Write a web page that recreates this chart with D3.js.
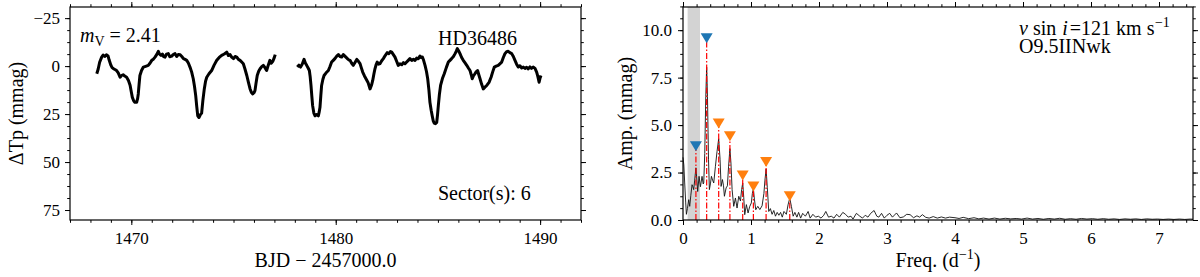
<!DOCTYPE html>
<html>
<head>
<meta charset="utf-8">
<script src="https://cdn.jsdelivr.net/npm/d3@7"></script>
<style>
  body { margin: 0; background: #fff; }
  text { font-family: "Liberation Serif", "DejaVu Serif", serif; fill: #000; }
  .axis line { stroke: #000; stroke-width: 1; }
  .axis path { display: none; }
</style>
</head>
<body>
<svg id="chart"></svg>
<script>
// Light curve, two TESS segments (BJD - 2457000, dTp in mmag)
const lcSegment1 = [[1468.31,4.0],[1468.38,1.5],[1468.45,-2.0],[1468.55,-4.7],[1468.62,-5.8],[1468.7,-5.0],[1468.78,-5.9],[1468.86,-5.3],[1468.92,-3.0],[1469.0,-0.5],[1469.06,0.8],[1469.15,1.5],[1469.22,1.9],[1469.28,2.3],[1469.36,3.5],[1469.45,5.8],[1469.52,4.9],[1469.6,4.5],[1469.68,5.2],[1469.77,5.8],[1469.86,7.5],[1469.94,10],[1470.0,13.5],[1470.05,16.3],[1470.12,18.2],[1470.18,18.9],[1470.26,18.9],[1470.31,16.8],[1470.34,14.5],[1470.38,9.5],[1470.42,4.9],[1470.5,2.3],[1470.59,0.5],[1470.7,0.1],[1470.83,-0.4],[1470.92,-1.6],[1471.0,-3],[1471.08,-3.6],[1471.16,-4.7],[1471.24,-6.0],[1471.32,-7.7],[1471.38,-6.2],[1471.45,-5.6],[1471.52,-6.3],[1471.58,-5.0],[1471.65,-4.7],[1471.72,-6.2],[1471.81,-6.5],[1471.88,-4.9],[1471.98,-5.2],[1472.05,-6.0],[1472.14,-6.5],[1472.22,-5.0],[1472.3,-6.1],[1472.39,-5.9],[1472.47,-5.0],[1472.55,-3.9],[1472.63,-3.5],[1472.71,-3.0],[1472.79,-1.6],[1472.87,0.5],[1472.95,3.0],[1473.03,6.6],[1473.09,10.5],[1473.15,15.4],[1473.2,21],[1473.25,25.9],[1473.31,26.8],[1473.38,25.3],[1473.44,24.5],[1473.5,18],[1473.57,11.9],[1473.63,8.0],[1473.69,5.8],[1473.8,4.0],[1473.93,2.3],[1474.05,-0.5],[1474.18,-3],[1474.3,-4.5],[1474.42,-5.6],[1474.55,-6.3],[1474.67,-7.3],[1474.75,-5.5],[1474.83,-6.0],[1474.91,-4.7],[1475.0,-3.9],[1475.08,-5.0],[1475.16,-4.7],[1475.24,-3.5],[1475.32,-3],[1475.4,-2.1],[1475.48,-1.2],[1475.56,1.5],[1475.65,4.9],[1475.73,8.5],[1475.81,11.9],[1475.88,13.8],[1475.94,14.5],[1476.0,13.9],[1476.05,12.8],[1476.1,9.0],[1476.16,4.9],[1476.23,2.7],[1476.3,1.4],[1476.38,0.3],[1476.46,-0.4],[1476.54,0.8],[1476.62,2.3],[1476.7,-0.5],[1476.78,-3],[1476.85,-1.5],[1476.92,-2.5],[1476.98,-4.0],[1477.04,-6]];

const lcSegment2 = [[1478.12,0.5],[1478.2,-0.5],[1478.28,0.5],[1478.36,-1.0],[1478.45,-3.5],[1478.52,-1.5],[1478.58,-0.4],[1478.65,1.0],[1478.71,2.3],[1478.75,5.5],[1478.79,10.1],[1478.83,15.5],[1478.87,20.6],[1478.93,24.5],[1478.99,25.9],[1479.07,25.2],[1479.15,25.9],[1479.19,24.0],[1479.23,21.5],[1479.27,15.5],[1479.31,10.1],[1479.37,7.0],[1479.43,4.9],[1479.53,3.5],[1479.64,2.3],[1479.72,0.2],[1479.8,-2.1],[1479.88,-3.0],[1479.96,-3.9],[1480.05,-5.2],[1480.13,-6],[1480.21,-5.0],[1480.29,-4.7],[1480.37,-6.0],[1480.45,-5.2],[1480.51,-4.5],[1480.57,-3.9],[1480.63,-3.3],[1480.7,-3],[1480.78,-1.5],[1480.86,-0.4],[1480.95,-2.0],[1481.03,-3.5],[1481.11,-2.5],[1481.19,-1.3],[1481.25,0.8],[1481.32,3.1],[1481.4,5.0],[1481.48,6.6],[1481.58,8.5],[1481.68,11.9],[1481.75,10.0],[1481.81,7.5],[1481.87,4.0],[1481.92,1.4],[1481.97,-0.5],[1482.03,-2.1],[1482.1,-1.0],[1482.17,-1.3],[1482.25,-2.8],[1482.33,-3.9],[1482.42,-5.5],[1482.52,-7.0],[1482.6,-6.5],[1482.68,-7.6],[1482.74,-7.3],[1482.82,-6.0],[1482.9,-4.7],[1482.98,-2.5],[1483.06,-0.4],[1483.14,-1.2],[1483.23,-0.7],[1483.31,-1.8],[1483.39,-1.2],[1483.47,-2.1],[1483.55,-3.0],[1483.63,-3.9],[1483.72,-3.0],[1483.8,-3.5],[1483.88,-3.0],[1483.96,-4.2],[1484.04,-3.8],[1484.12,-5.2],[1484.18,-4.5],[1484.24,-4.7],[1484.3,-3.0],[1484.37,-0.4],[1484.44,2.8],[1484.5,6.6],[1484.56,12.5],[1484.61,18.9],[1484.67,23],[1484.72,25.9],[1484.77,28.5],[1484.82,29.7],[1484.88,30.0],[1484.94,29.4],[1484.98,25.5],[1485.02,20.6],[1485.07,15.0],[1485.13,10.1],[1485.22,6.5],[1485.31,4.0],[1485.41,0.8],[1485.51,-2.1],[1485.59,-3.0],[1485.67,-3.9],[1485.76,-5.0],[1485.84,-6.5],[1485.9,-7.8],[1485.95,-9.1],[1486.01,-8.0],[1486.08,-6.5],[1486.16,-4.5],[1486.24,-3],[1486.32,-1.8],[1486.41,-0.4],[1486.49,1.0],[1486.57,2.3],[1486.63,4.5],[1486.68,6.6],[1486.74,5.0],[1486.81,4.0],[1486.87,3.0],[1486.94,2.3],[1487.0,4.5],[1487.06,6.6],[1487.14,9.5],[1487.22,11.9],[1487.3,11.0],[1487.39,10.1],[1487.5,8.5],[1487.6,5.8],[1487.68,3.0],[1487.76,0.5],[1487.85,0.0],[1487.95,-0.4],[1488.03,-1.2],[1488.12,-2.1],[1488.2,-4.5],[1488.28,-6.5],[1488.36,-7.5],[1488.44,-7.7],[1488.52,-7.0],[1488.61,-6.5],[1488.69,-5.0],[1488.77,-3],[1488.85,-1.0],[1488.93,0.5],[1489.01,-0.2],[1489.1,1.0],[1489.18,0.5],[1489.26,1.2],[1489.34,0.6],[1489.42,1.4],[1489.5,0.4],[1489.58,1.2],[1489.67,0.5],[1489.75,1.2],[1489.83,3.1],[1489.89,5.5],[1489.95,8.4],[1489.99,6.5],[1490.04,4.9]];

// Amplitude spectrum (freq in d^-1, amp in mmag)
const periodogram = [[0.00,3.3],[0.012,2.9],[0.025,1.95],[0.04,0.9],[0.05,0.3],[0.065,0.6],[0.084,1.07],[0.099,0.72],[0.115,1.3],[0.133,1.86],[0.145,1.75],[0.157,1.6],[0.172,2.1],[0.19,2.75],[0.204,2.1],[0.216,1.5],[0.236,2.3],[0.256,1.75],[0.28,2.3],[0.297,1.9],[0.305,1.95],[0.32,3.5],[0.335,6.5],[0.348,8.05],[0.36,6.5],[0.375,3.2],[0.388,1.6],[0.403,1.9],[0.418,2.3],[0.435,2.1],[0.452,1.95],[0.477,2.83],[0.5,3.6],[0.525,4.28],[0.545,3.2],[0.56,1.77],[0.58,2.13],[0.596,1.8],[0.609,1.25],[0.634,1.69],[0.653,1.8],[0.67,2.8],[0.69,3.76],[0.705,3.0],[0.722,1.6],[0.746,0.72],[0.771,1.16],[0.795,0.63],[0.82,1.25],[0.845,1.0],[0.862,1.6],[0.878,1.95],[0.893,1.2],[0.908,0.28],[0.932,0.81],[0.957,0.37],[0.98,0.7],[1.005,0.9],[1.02,1.4],[1.035,1.65],[1.05,1.1],[1.07,0.54],[1.1,0.72],[1.13,0.55],[1.163,0.75],[1.19,1.4],[1.205,2.1],[1.222,2.68],[1.24,1.7],[1.261,0.45],[1.285,0.6],[1.31,0.3],[1.335,0.5],[1.36,0.2],[1.385,0.4],[1.41,0.25],[1.435,0.4],[1.46,0.15],[1.485,0.45],[1.52,0.3],[1.545,0.8],[1.57,1.15],[1.595,0.7],[1.62,0.2],[1.645,0.4],[1.675,0.15],[1.7,0.4],[1.73,0.1],[1.76,0.35],[1.8,0.2],[1.84,0.45],[1.87,0.1],[1.91,0.3],[1.95,0.15],[1.99,0.2],[2.03,0.1],[2.07,0.25],[2.1,0.45],[2.14,0.15],[2.18,0.2],[2.22,0.1],[2.26,0.3],[2.3,0.15],[2.35,0.4],[2.39,0.3],[2.43,0.15],[2.47,0.2],[2.5,0.05],[2.55,0.35],[2.6,0.2],[2.64,0.1],[2.68,0.25],[2.72,0.15],[2.76,0.35],[2.81,0.5],[2.85,0.2],[2.88,0.15],[2.92,0.35],[2.96,0.1],[3.0,0.25],[3.04,0.35],[3.08,0.15],[3.14,0.37],[3.19,0.12],[3.24,0.16],[3.29,0.3],[3.34,0.28],[3.39,0.12],[3.44,0.22],[3.48,0.15],[3.52,0.28],[3.57,0.14],[3.62,0.1],[3.68,0.18],[3.74,0.1],[3.8,0.16],[3.86,0.1],[3.92,0.15],[4.0,0.12],[4.06,0.08],[4.12,0.14],[4.2,0.07],[4.28,0.12],[4.35,0.06],[4.42,0.1],[4.5,0.05],[4.58,0.1],[4.66,0.05],[4.74,0.09],[4.82,0.06],[4.9,0.08],[4.98,0.05],[5.06,0.1],[5.14,0.05],[5.22,0.08],[5.3,0.04],[5.38,0.08],[5.46,0.05],[5.54,0.09],[5.62,0.04],[5.7,0.07],[5.78,0.04],[5.86,0.08],[5.94,0.05],[6.02,0.07],[6.1,0.04],[6.18,0.07],[6.26,0.04],[6.34,0.06],[6.42,0.03],[6.5,0.06],[6.58,0.04],[6.66,0.06],[6.74,0.03],[6.82,0.06],[6.9,0.04],[6.98,0.05],[7.06,0.03],[7.14,0.05],[7.22,0.03],[7.3,0.05],[7.38,0.03],[7.46,0.05],[7.5,0.04]];

// Extracted frequencies (marker position = amplitude of the triangle)
const blueFreqs = [0.348, 0.19];
const blueAmps = [9.58, 3.88];
const orangeFreqs = [0.525, 0.69, 0.878, 1.035, 1.222, 1.57];
const orangeAmps = [5.08, 4.41, 2.34, 1.77, 3.06, 1.25];
const shadedBand = [0.068, 0.25];

const lcXTicks = [1470, 1480, 1490];
const lcYTicks = [-25, 0, 25, 50, 75];
const pgXTicks = [0, 1, 2, 3, 4, 5, 6, 7];
const pgYTicks = [0, 2.5, 5, 7.5, 10];

const serif = '"Liberation Serif", "DejaVu Serif", serif';
const W = 1200, H = 277;
const svg = d3.select('#chart').attr('width', W).attr('height', H);

const plotTop = 7, plotBottom = 220;

// ---- left panel: light curve ----
const x1 = d3.scaleLinear().domain([1467, 1492]).range([70, 581]);
const y1 = d3.scaleLinear().domain([-30.8, 80.2]).range([plotTop, plotBottom]);

// ---- right panel: periodogram ----
const x2 = d3.scaleLinear().domain([0, 7.5]).range([683, 1193]);
const y2 = d3.scaleLinear().domain([0, 11.22]).range([plotBottom, plotTop]);

function frame(x) {
    const [xa, xb] = x.range();
    svg.append('rect')
        .attr('x', xa).attr('y', plotTop)
        .attr('width', xb - xa).attr('height', plotBottom - plotTop)
        .attr('fill', 'none').attr('stroke', '#000').attr('stroke-width', 1.2);
}

function ticks(axisFn, scale, major, minor, pos, fmt, pad) {
    const g = svg.append('g').attr('class', 'axis').attr('transform', pos)
        .call(axisFn(scale).tickValues(major).tickSize(5).tickPadding(pad).tickFormat(fmt));
    g.attr('font-family', serif).attr('font-size', 17);
    g.selectAll('text').style('font-family', serif).style('font-size', '17px').attr('fill', '#000');
    svg.append('g').attr('class', 'axis').attr('transform', pos)
        .call(axisFn(scale).tickValues(minor).tickSize(2.8).tickFormat(''));
}

function range(a, b, s) {
    const out = [];
    for (let v = a; v <= b + 1e-9; v += s) out.push(+v.toFixed(4));
    return out;
}

// light-curve axes
const lcMinorX = range(1467, 1492, 1);
const lcMinorY = range(-31.25, 81.25, 6.25).filter(v => v >= -30.8 && v <= 80.2);
ticks(d3.axisBottom, x1, lcXTicks, lcMinorX, `translate(0,${plotBottom})`, d3.format('d'), 7);
ticks(d3.axisTop, x1, lcXTicks, lcMinorX, `translate(0,${plotTop})`, '', 3);
ticks(d3.axisLeft, y1, lcYTicks, lcMinorY, `translate(70,0)`, d3.format('d'), 5);
ticks(d3.axisRight, y1, lcYTicks, lcMinorY, `translate(581,0)`, '', 3);

// light curve
const line1 = d3.line().x(d => x1(d[0])).y(d => y1(d[1]));
[lcSegment1, lcSegment2].forEach(seg => {
    svg.append('path')
        .attr('d', line1(seg))
        .attr('fill', 'none')
        .attr('stroke', '#000')
        .attr('stroke-width', 3)
        .attr('stroke-linejoin', 'round');
});
frame(x1);

// annotations left
const mv = svg.append('text').attr('x', 80).attr('y', 42).style('font-size', '20px');
mv.append('tspan').style('font-style', 'italic').text('m');
mv.append('tspan').attr('dy', 4).style('font-size', '14px').text('V');
mv.append('tspan').attr('dy', -4).text(' = 2.41');

svg.append('text').attr('x', 438).attr('y', 45).style('font-size', '20px').text('HD36486');
svg.append('text').attr('x', 438).attr('y', 200).style('font-size', '20px').text('Sector(s): 6');

svg.append('text')
    .attr('x', (70 + 581) / 2).attr('y', 267)
    .attr('text-anchor', 'middle').style('font-size', '20px')
    .text('BJD − 2457000.0');

svg.append('text')
    .attr('transform', `translate(23,${(plotTop + plotBottom) / 2}) rotate(-90)`)
    .attr('text-anchor', 'middle').style('font-size', '20px')
    .text('ΔTp (mmag)');

// periodogram: band, curve, markers
svg.append('rect')
    .attr('x', x2(shadedBand[0])).attr('y', plotTop)
    .attr('width', x2(shadedBand[1]) - x2(shadedBand[0]))
    .attr('height', plotBottom - plotTop)
    .attr('fill', '#d3d3d3');

const pgMinorX = range(0, 7.5, 0.2);
const pgMinorY = range(0, 11.25, 0.625);
ticks(d3.axisBottom, x2, pgXTicks, pgMinorX, `translate(0,${plotBottom})`, d3.format('d'), 7);
ticks(d3.axisTop, x2, pgXTicks, pgMinorX, `translate(0,${plotTop})`, '', 3);
ticks(d3.axisLeft, y2, pgYTicks, pgMinorY, `translate(683,0)`, d3.format('.1f'), 6);
ticks(d3.axisRight, y2, pgYTicks, pgMinorY, `translate(1193,0)`, '', 3);

const line2 = d3.line().x(d => x2(d[0])).y(d => y2(d[1]));
svg.append('path')
    .attr('d', line2(periodogram))
    .attr('fill', 'none')
    .attr('stroke', '#111')
    .attr('stroke-width', 0.9);

function markers(freqs, amps, color) {
    freqs.forEach((f, i) => {
        const cx = x2(f), cy = y2(amps[i]);
        svg.append('line')
            .attr('x1', cx).attr('x2', cx)
            .attr('y1', y2(0)).attr('y2', cy)
            .attr('stroke', 'red').attr('stroke-width', 1.2)
            .attr('stroke-dasharray', '6,2,1.5,2');
        svg.append('path')
            .attr('d', `M${cx - 6},${cy - 5} L${cx + 6},${cy - 5} L${cx},${cy + 5} Z`)
            .attr('fill', color);
    });
}
markers(blueFreqs, blueAmps, '#1f77b4');
markers(orangeFreqs, orangeAmps, '#ff7f0e');

frame(x2);

// annotations right: pieces laid out one after another
const vsinPieces = [
    { t: 'v', italic: true, gap: 5 },
    { t: 'sin', italic: false, gap: 6 },
    { t: 'i', italic: true, gap: 2 },
    { t: '=121 km s', italic: false, gap: 0.5 }
];
let cursor = 1019;
vsinPieces.forEach(p => {
    const t = svg.append('text').attr('x', cursor).attr('y', 35)
        .style('font-size', '20px')
        .style('font-style', p.italic ? 'italic' : 'normal')
        .text(p.t);
    cursor += t.node().getComputedTextLength() + p.gap;
});
svg.append('text').attr('x', cursor).attr('y', 27).style('font-size', '14px').text('−1');

svg.append('text').attr('x', 1019).attr('y', 53).style('font-size', '20px').text('O9.5IINwk');

const fl = svg.append('text')
    .attr('x', (683 + 1193) / 2).attr('y', 267)
    .attr('text-anchor', 'middle').style('font-size', '20px');
fl.append('tspan').text('Freq. (d');
fl.append('tspan').attr('dy', -8).style('font-size', '14px').text('−1');
fl.append('tspan').attr('dy', 8).text(')');

svg.append('text')
    .attr('transform', `translate(632,${(plotTop + plotBottom) / 2}) rotate(-90)`)
    .attr('text-anchor', 'middle').style('font-size', '20px')
    .text('Amp. (mmag)');
</script>
</body>
</html>
